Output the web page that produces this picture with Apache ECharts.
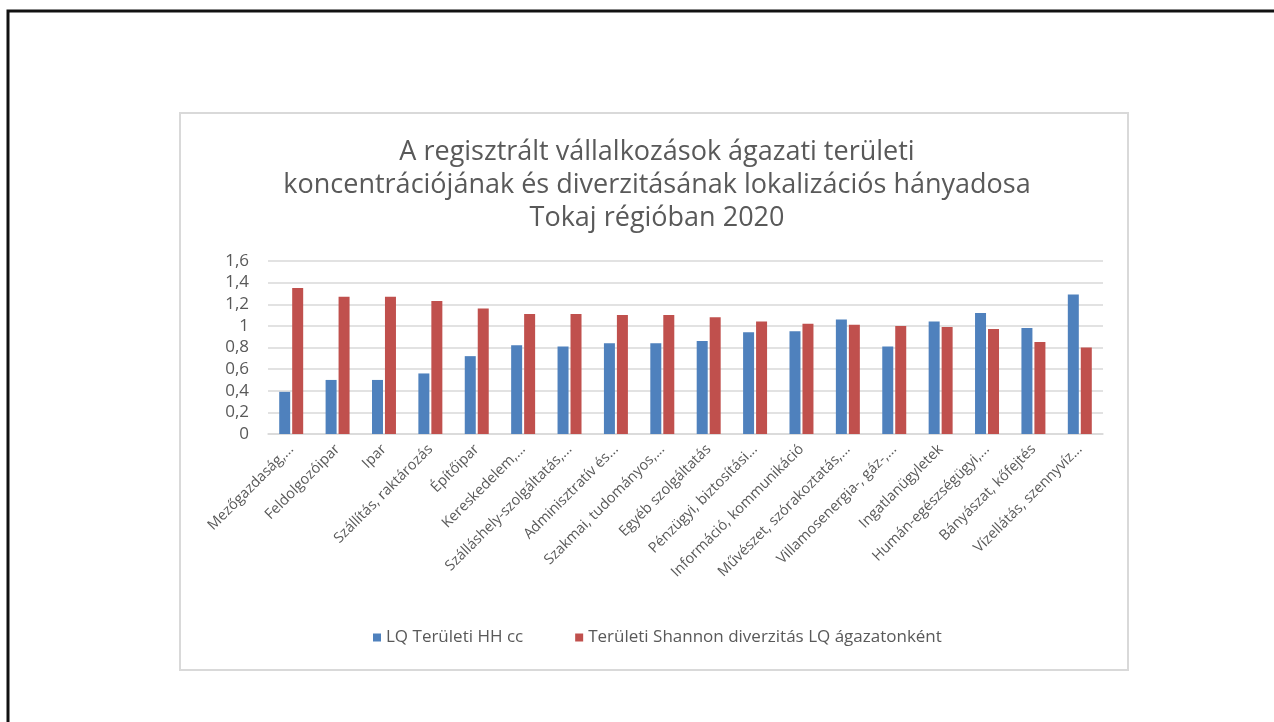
<!DOCTYPE html>
<html>
<head>
<meta charset="utf-8">
<script src="https://cdn.jsdelivr.net/npm/echarts@6/dist/echarts.min.js"></script>
<style>
  html, body { margin: 0; padding: 0; background: #fff; }
  #main { width: 1274px; height: 722px; }
</style>
</head>
<body>
<div id="main"></div>
<script>
// agazatok (rovidített nevek, ahogy az Excel abra mutatja)
var categories = [
    'Mezőgazdaság,...', 'Feldolgozóipar', 'Ipar', 'Szállítás, raktározás',
    'Építőipar', 'Kereskedelem,...', 'Szálláshely-szolgáltatás,...', 'Adminisztratív és...',
    'Szakmai, tudományos,...', 'Egyéb szolgáltatás', 'Pénzügyi, biztosítási...', 'Információ, kommunikáció',
    'Művészet, szórakoztatás,...', 'Villamosenergia-, gáz-,...', 'Ingatlanügyletek', 'Humán-egészségügyi,...',
    'Bányászat, kőfejtés', 'Vízellátás, szennyvíz...'
];
var lqHH = [0.39, 0.50, 0.50, 0.56, 0.72, 0.82, 0.81, 0.84, 0.84, 0.86, 0.94, 0.95, 1.06, 0.81, 1.04, 1.12, 0.98, 1.29];
var shannonLQ = [1.35, 1.27, 1.27, 1.23, 1.16, 1.11, 1.11, 1.10, 1.10, 1.08, 1.04, 1.02, 1.01, 1.00, 0.99, 0.97, 0.85, 0.80];
var seriesNames = ['LQ Területi HH cc', 'Területi Shannon diverzitás LQ ágazatonként'];
var titleText = 'A regisztrált vállalkozások ágazati területi\nkoncentrációjának és diverzitásának lokalizációs hányadosa\nTokaj régióban 2020';

var font = 'Open Sans';
var txtColor = '#595959';
var gridColor = '#D9D9D9';

var chart = echarts.init(document.getElementById('main'));
var option = {
    backgroundColor: '#fff',
    animation: false,
    graphic: [
        { // fekete keret (dia szele)
            type: 'polyline',
            shape: { points: [[8, 722], [8, 11], [1274, 11]] },
            style: { stroke: '#111', lineWidth: 3, fill: null }
        },
        { // diagram doboz
            type: 'rect',
            shape: { x: 180, y: 113, width: 948, height: 557 },
            style: { stroke: gridColor, lineWidth: 2, fill: null }
        }
    ],
    title: {
        text: titleText,
        left: 652,
        top: 131,
        textAlign: 'center',
        textStyle: {
            fontFamily: font,
            fontSize: 27,
            fontWeight: 'normal',
            color: txtColor,
            lineHeight: 33
        }
    },
    legend: {
        data: seriesNames,
        left: 368,
        top: 624,
        itemWidth: 8,
        itemHeight: 8,
        itemGap: 52,
        icon: 'rect',
        textStyle: { fontFamily: font, fontSize: 17, color: txtColor }
    },
    grid: { left: 268, right: 171, top: 261, bottom: 288, containLabel: false },
    xAxis: {
        type: 'category',
        data: categories,
        axisLine: { lineStyle: { color: gridColor, width: 1.5 } },
        axisTick: { show: false },
        axisLabel: {
            interval: 0,
            rotate: 45,
            margin: 13,
            fontFamily: font,
            fontSize: 14.5,
            color: txtColor
        }
    },
    yAxis: {
        type: 'value',
        min: 0,
        max: 1.6,
        interval: 0.2,
        axisLine: { show: false },
        axisTick: { show: false },
        splitLine: { lineStyle: { color: gridColor, width: 1.5 } },
        axisLabel: {
            margin: 19,
            fontFamily: font,
            fontSize: 17,
            color: txtColor,
            formatter: function (v) {
                return String(+v.toFixed(1)).replace('.', ',');
            }
        }
    },
    series: [
        {
            name: seriesNames[0],
            type: 'bar',
            data: lqHH,
            barWidth: 11,
            barGap: '18%',
            itemStyle: { color: '#4F81BD' }
        },
        {
            name: seriesNames[1],
            type: 'bar',
            data: shannonLQ,
            barWidth: 11,
            itemStyle: { color: '#C0504D' }
        }
    ]
};
chart.setOption(option);
</script>
</body>
</html>
